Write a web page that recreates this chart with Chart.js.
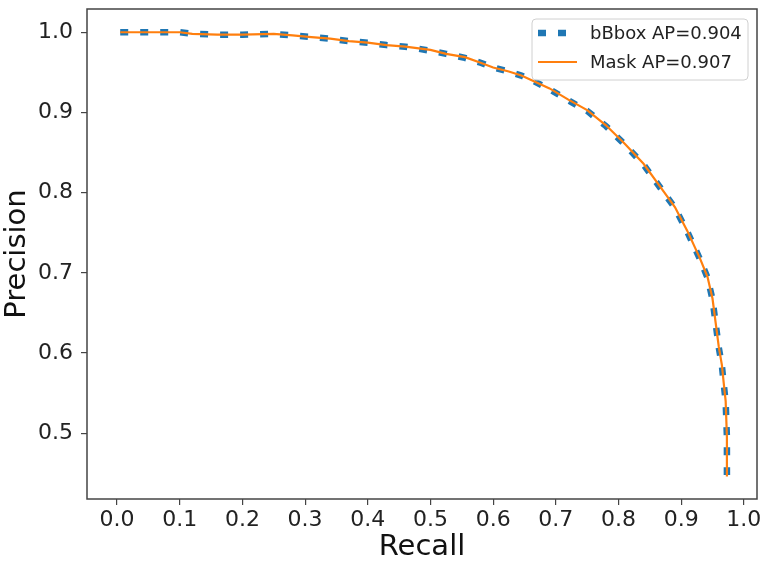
<!DOCTYPE html>
<html>
<head>
<meta charset="utf-8">
<script src="https://cdn.jsdelivr.net/npm/chart.js@4/dist/chart.umd.min.js"></script>
<style>
  html, body { margin: 0; padding: 0; background: #fff; }
  canvas { display: block; }
</style>
</head>
<body>
<canvas id="prChart" width="762" height="565"></canvas>
<script>
// recall / precision
const recall = [0.005, 0.03, 0.06, 0.1, 0.12, 0.16, 0.2, 0.25, 0.28, 0.31, 0.34, 0.37, 0.4, 0.43, 0.46, 0.5,
  0.525, 0.555, 0.58, 0.6, 0.625, 0.645, 0.665, 0.69, 0.72, 0.75, 0.78, 0.81, 0.84, 0.865, 0.89, 0.91,
  0.93, 0.942, 0.95, 0.955, 0.96, 0.965, 0.968, 0.971, 0.973, 0.973];
const bboxPrecision = [1.0, 1.0, 1.0, 1.0, 0.998, 0.997, 0.997, 0.998, 0.996, 0.994, 0.992, 0.989, 0.987, 0.984, 0.982, 0.977,
  0.973, 0.968, 0.962, 0.956, 0.951, 0.946, 0.939, 0.929, 0.915, 0.902, 0.883, 0.860, 0.835, 0.808, 0.781, 0.751,
  0.717, 0.694, 0.667, 0.637, 0.607, 0.584, 0.561, 0.539, 0.495, 0.448];
const maskPrecision = [1.0, 1.0, 1.0, 1.0, 0.998, 0.997, 0.997, 0.998, 0.996, 0.994, 0.992, 0.989, 0.987, 0.984, 0.982, 0.978,
  0.973, 0.969, 0.962, 0.956, 0.951, 0.946, 0.939, 0.930, 0.916, 0.903, 0.884, 0.861, 0.836, 0.809, 0.782, 0.752,
  0.718, 0.695, 0.668, 0.638, 0.608, 0.585, 0.562, 0.540, 0.495, 0.446];
const seriesLabels = ['bBbox AP=0.904', 'Mask AP=0.907'];
const xTicks = [0.0, 0.1, 0.2, 0.3, 0.4, 0.5, 0.6, 0.7, 0.8, 0.9, 1.0];
const yTicks = [0.5, 0.6, 0.7, 0.8, 0.9, 1.0];

const FONT = "'DejaVu Sans', sans-serif";

function toPoints(xs, ys) {
    return xs.map((x, i) => ({ x: x, y: ys[i] }));
}

// box around the plot, like matplotlib spines
const frame = {
    id: 'frame',
    afterDatasetsDraw(chart) {
        const a = chart.chartArea;
        const ctx = chart.ctx;
        ctx.save();
        ctx.strokeStyle = '#444';
        ctx.lineWidth = 1.5;
        ctx.strokeRect(a.left, a.top, a.right - a.left, a.bottom - a.top);
        ctx.restore();
    }
};

// legend box in the upper right corner of the plot
const boxLegend = {
    id: 'boxLegend',
    afterDraw(chart) {
        const a = chart.chartArea;
        const ctx = chart.ctx;
        const right = a.right - 9, top = a.top + 10;
        const w = 216, h = 61;
        const left = right - w;
        ctx.save();
        ctx.beginPath();
        ctx.roundRect(left, top, w, h, 4);
        ctx.fillStyle = 'rgba(255,255,255,0.85)';
        ctx.fill();
        ctx.strokeStyle = '#d0d0d0';
        ctx.lineWidth = 1;
        ctx.stroke();

        chart.data.datasets.forEach(function(ds, i) {
            const y = top + 14 + i * 29;
            ctx.beginPath();
            ctx.strokeStyle = ds.borderColor;
            ctx.lineWidth = ds.borderWidth;
            ctx.lineCap = 'butt';
            ctx.setLineDash(ds.borderDash || []);
            ctx.moveTo(left + 6, y);
            ctx.lineTo(left + 45, y);
            ctx.stroke();
            ctx.setLineDash([]);
            ctx.fillStyle = '#222';
            ctx.font = '18px ' + FONT;
            ctx.textBaseline = 'middle';
            ctx.fillText(ds.label, left + 58, y + 1);
        });
        ctx.restore();
    }
};

const ctx = document.getElementById('prChart').getContext('2d');
const chart = new Chart(ctx, {
    type: 'scatter',
    data: {
        datasets: [{
            label: seriesLabels[0],
            data: toPoints(recall, bboxPrecision),
            showLine: true,
            borderColor: '#1f77b4',
            borderWidth: 6.5,
            borderDash: [8, 12],
            borderCapStyle: 'butt',
            pointRadius: 0,
            order: 1
        }, {
            label: seriesLabels[1],
            data: toPoints(recall, maskPrecision),
            showLine: true,
            borderColor: '#ff7f0e',
            borderWidth: 2.2,
            pointRadius: 0,
            order: 0
        }]
    },
    options: {
        responsive: false,
        animation: false,
        layout: { padding: { left: 0, right: 5, top: 9, bottom: 0 } },
        plugins: {
            legend: { display: false },
            tooltip: { enabled: false }
        },
        scales: {
            x: {
                type: 'linear',
                min: -0.048,
                max: 1.021,
                afterBuildTicks: function(axis) { axis.ticks = xTicks.map(v => ({ value: v })); },
                afterFit: function(axis) {
                    axis.height = 66;
                    axis.paddingLeft = 0;
                    axis.paddingRight = 0;
                },
                border: { display: false },
                grid: { drawOnChartArea: false, drawTicks: true, tickLength: 6, color: '#444', lineWidth: 1.2 },
                ticks: {
                    padding: 2,
                    color: '#222',
                    font: { family: FONT, size: 22 },
                    maxRotation: 0,
                    autoSkip: false,
                    callback: v => v.toFixed(1)
                },
                title: {
                    display: true,
                    text: 'Recall',
                    color: '#111',
                    padding: 0,
                    font: { family: FONT, size: 29 }
                }
            },
            y: {
                type: 'linear',
                min: 0.418,
                max: 1.029,
                afterBuildTicks: function(axis) { axis.ticks = yTicks.map(v => ({ value: v })); },
                afterFit: function(axis) {
                    axis.width = 87;
                    axis.paddingTop = 0;
                    axis.paddingBottom = 0;
                },
                border: { display: false },
                grid: { drawOnChartArea: false, drawTicks: true, tickLength: 6, color: '#444', lineWidth: 1.2 },
                ticks: {
                    padding: 8,
                    color: '#222',
                    font: { family: FONT, size: 22 },
                    autoSkip: false,
                    callback: v => v.toFixed(1)
                },
                title: {
                    display: true,
                    text: 'Precision',
                    color: '#111',
                    padding: 0,
                    font: { family: FONT, size: 29 }
                }
            }
        }
    },
    plugins: [frame, boxLegend]
});
</script>
</body>
</html>
